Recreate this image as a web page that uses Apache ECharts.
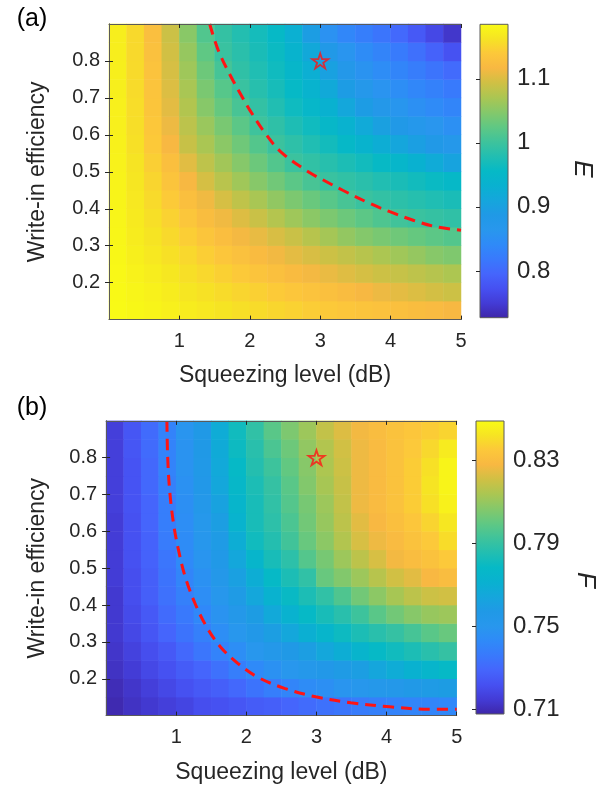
<!DOCTYPE html>
<html><head><meta charset="utf-8">
<script src="https://cdn.jsdelivr.net/npm/echarts@6/dist/echarts.min.js"></script>
<style>html,body{margin:0;padding:0;background:#fff}#c{width:611px;height:789px}</style>
</head><body><div id="c"></div>
<script>
// ---------- data ----------
const sqzCenters = [0.125,0.375,0.625,0.875,1.125,1.375,1.625,1.875,2.125,2.375,2.625,2.875,3.125,3.375,3.625,3.875,4.125,4.375,4.625,4.875];
const effCenters = [0.125,0.175,0.225,0.275,0.325,0.375,0.425,0.475,0.525,0.575,0.625,0.675,0.725,0.775,0.825,0.875];
const sqzTicks = [1,2,3,4,5];
const effTicks = [0.2,0.3,0.4,0.5,0.6,0.7,0.8];
const E_ticks = [0.8,0.9,1,1.1];
const F_ticks = [0.71,0.75,0.79,0.83];
const E_range = [0.727, 1.185];
const F_range = [0.7077, 0.849];
// E rows, bottom (eff 0.125) to top (eff 0.875)
const E_rows = [
 [1.184,1.181,1.178,1.174,1.170,1.166,1.162,1.158,1.155,1.151,1.147,1.143,1.140,1.137,1.134,1.131,1.128,1.124,1.120,1.116],
 [1.183,1.179,1.175,1.170,1.164,1.160,1.155,1.150,1.146,1.141,1.137,1.132,1.128,1.122,1.116,1.110,1.105,1.100,1.095,1.091],
 [1.182,1.176,1.171,1.165,1.158,1.152,1.146,1.140,1.134,1.128,1.121,1.114,1.108,1.102,1.096,1.091,1.087,1.082,1.077,1.072],
 [1.181,1.173,1.166,1.159,1.152,1.144,1.137,1.129,1.121,1.113,1.105,1.098,1.091,1.085,1.078,1.071,1.064,1.057,1.049,1.044],
 [1.180,1.170,1.162,1.153,1.144,1.135,1.125,1.114,1.107,1.098,1.089,1.078,1.067,1.056,1.047,1.040,1.034,1.028,1.022,1.016],
 [1.179,1.168,1.158,1.147,1.136,1.124,1.112,1.101,1.089,1.076,1.063,1.051,1.042,1.032,1.022,1.012,1.003,0.998,0.994,0.990],
 [1.178,1.166,1.154,1.141,1.127,1.112,1.097,1.083,1.069,1.055,1.042,1.030,1.019,1.008,0.998,0.992,0.987,0.982,0.977,0.972],
 [1.177,1.164,1.150,1.134,1.116,1.096,1.079,1.064,1.049,1.035,1.021,1.008,0.997,0.991,0.985,0.978,0.972,0.966,0.959,0.953],
 [1.176,1.162,1.145,1.127,1.103,1.082,1.065,1.048,1.032,1.015,0.999,0.991,0.983,0.974,0.966,0.957,0.946,0.934,0.920,0.905],
 [1.175,1.159,1.140,1.117,1.088,1.070,1.051,1.034,1.016,0.999,0.988,0.977,0.967,0.953,0.940,0.925,0.910,0.897,0.885,0.874],
 [1.174,1.157,1.138,1.110,1.081,1.060,1.040,1.021,1.001,0.989,0.976,0.964,0.951,0.935,0.918,0.900,0.885,0.872,0.862,0.852],
 [1.174,1.156,1.135,1.104,1.075,1.049,1.028,1.008,0.992,0.978,0.963,0.950,0.933,0.913,0.893,0.876,0.863,0.852,0.843,0.835],
 [1.173,1.155,1.133,1.100,1.069,1.041,1.018,0.997,0.983,0.970,0.955,0.938,0.917,0.893,0.873,0.859,0.848,0.838,0.829,0.820],
 [1.173,1.154,1.132,1.097,1.063,1.033,1.006,0.990,0.977,0.964,0.948,0.928,0.902,0.877,0.858,0.846,0.835,0.824,0.813,0.802],
 [1.172,1.153,1.129,1.094,1.058,1.024,0.997,0.985,0.972,0.960,0.940,0.915,0.885,0.860,0.845,0.833,0.821,0.808,0.792,0.775],
 [1.172,1.153,1.126,1.090,1.050,1.014,0.993,0.980,0.968,0.956,0.930,0.895,0.855,0.838,0.826,0.814,0.800,0.783,0.764,0.745]
];
// F rows, bottom (eff 0.125) to top (eff 0.875)
const F_rows = [
 [0.709,0.712,0.714,0.716,0.718,0.721,0.722,0.724,0.726,0.727,0.729,0.731,0.733,0.735,0.737,0.739,0.740,0.741,0.741,0.742],
 [0.710,0.713,0.716,0.719,0.722,0.725,0.727,0.730,0.734,0.738,0.741,0.744,0.746,0.749,0.751,0.753,0.754,0.756,0.758,0.759],
 [0.712,0.715,0.719,0.722,0.726,0.729,0.733,0.738,0.743,0.747,0.750,0.753,0.755,0.758,0.760,0.764,0.768,0.771,0.775,0.778],
 [0.713,0.717,0.721,0.725,0.730,0.735,0.740,0.745,0.750,0.754,0.757,0.760,0.765,0.769,0.774,0.778,0.781,0.784,0.787,0.790],
 [0.714,0.719,0.724,0.729,0.734,0.739,0.745,0.750,0.755,0.760,0.765,0.770,0.775,0.780,0.784,0.787,0.790,0.794,0.798,0.801],
 [0.714,0.720,0.725,0.731,0.736,0.742,0.748,0.754,0.759,0.766,0.772,0.778,0.783,0.787,0.792,0.798,0.803,0.807,0.810,0.811],
 [0.714,0.721,0.727,0.733,0.739,0.745,0.751,0.758,0.765,0.772,0.779,0.784,0.789,0.796,0.803,0.808,0.813,0.817,0.820,0.821],
 [0.715,0.721,0.727,0.734,0.741,0.747,0.754,0.761,0.769,0.778,0.784,0.789,0.801,0.806,0.811,0.816,0.821,0.824,0.828,0.830],
 [0.715,0.722,0.728,0.735,0.743,0.749,0.756,0.765,0.775,0.783,0.788,0.797,0.804,0.811,0.817,0.822,0.827,0.830,0.832,0.835],
 [0.715,0.722,0.728,0.737,0.744,0.751,0.758,0.769,0.781,0.786,0.793,0.801,0.808,0.815,0.822,0.826,0.829,0.832,0.835,0.840],
 [0.715,0.722,0.729,0.738,0.745,0.752,0.760,0.773,0.783,0.788,0.795,0.803,0.810,0.817,0.824,0.828,0.831,0.834,0.838,0.843],
 [0.716,0.723,0.729,0.738,0.746,0.754,0.762,0.775,0.783,0.789,0.797,0.804,0.811,0.818,0.826,0.829,0.832,0.836,0.841,0.846],
 [0.716,0.723,0.730,0.739,0.747,0.755,0.765,0.777,0.784,0.790,0.798,0.806,0.813,0.819,0.826,0.829,0.832,0.836,0.842,0.847],
 [0.716,0.723,0.730,0.740,0.748,0.756,0.766,0.778,0.786,0.792,0.800,0.807,0.814,0.820,0.826,0.829,0.832,0.836,0.841,0.847],
 [0.716,0.724,0.731,0.740,0.748,0.757,0.767,0.780,0.787,0.795,0.802,0.809,0.815,0.821,0.826,0.829,0.832,0.835,0.839,0.844],
 [0.716,0.724,0.731,0.740,0.749,0.757,0.768,0.781,0.789,0.798,0.805,0.811,0.818,0.823,0.827,0.830,0.832,0.834,0.836,0.838]
];
const contourE_x = [1.43,1.55,1.72,1.89,2.0,2.22,2.44,2.83,3.05,3.32,3.71,3.99,4.32,4.65,5.0];
const contourE_y = [0.9,0.83,0.762,0.703,0.667,0.604,0.554,0.5,0.477,0.45,0.414,0.392,0.369,0.351,0.342];
const contourF_x = [0.867,0.878,0.906,0.961,1.033,1.128,1.267,1.433,1.628,1.878,2.156,2.544,2.989,3.489,4.044,4.6,5.0];
const contourF_y = [0.9,0.803,0.712,0.622,0.549,0.477,0.405,0.341,0.287,0.242,0.205,0.174,0.151,0.135,0.124,0.117,0.117];
const starPoint = [3, 0.8];

// ---------- style ----------
const parula = ['#3e26a8','#433bd5','#4650f1','#4565fc','#3979fc','#2f8af8','#2897ed','#2099e6','#15a6dc','#09b1d0',
 '#06b9c6','#22beb1','#3fc39b','#60c883','#85c86a','#abc652','#d0c044','#f8b842','#fcc83a','#f6e423','#f9fb15'];
const FONT = "'Liberation Sans', Arial, Helvetica, sans-serif";
const TXT = '#262626';
const FRAME = '#5a5a5a';

function heatData(rows){
  const out = [];
  rows.forEach((row, j) => row.forEach((v, i) => out.push([i, j, v])));
  return out;
}
function lineData(xs, ys){ return xs.map((x, i) => [x, ys[i]]); }

const chart = echarts.init(document.getElementById('c'), null, {renderer:'canvas'});

const panels = [
  {grid:{left:109, top:24, width:352, height:295.6}, cb:{left:480, top:24.3, width:28, height:293.4},
   rows:E_rows, range:E_range, ticks:E_ticks, cx:contourE_x, cy:contourE_y, fmt:v=>String(v), yGap:60, xGap:45},
  {grid:{left:106.1, top:420.9, width:350.6, height:294.7}, cb:{left:476, top:421, width:28, height:293},
   rows:F_rows, range:F_range, ticks:F_ticks, cx:contourF_x, cy:contourF_y, fmt:v=>v.toFixed(2), yGap:57, xGap:46}
];

const grid=[], xAxis=[], yAxis=[], series=[], visualMap=[];
const starPath = 'path://M0,-10 L2.245,-3.09 L9.51,-3.09 L3.633,1.18 L5.878,8.09 L0,3.82 L-5.878,8.09 L-3.633,1.18 L-9.51,-3.09 L-2.245,-3.09 Z';

panels.forEach((p, k) => {
  const g0 = grid.length;
  grid.push(Object.assign({containLabel:false}, p.grid));   // heatmap grid
  grid.push(Object.assign({containLabel:false}, p.grid));   // value axes grid
  grid.push(Object.assign({containLabel:false}, p.cb));     // colorbar grid
  const xa0 = xAxis.length, ya0 = yAxis.length;
  // [xa0] heatmap category axes
  xAxis.push({type:'category', gridIndex:g0, data:sqzCenters, show:false});
  yAxis.push({type:'category', gridIndex:g0, data:effCenters, show:false});
  const tickStyle = {show:true, inside:true, length:4, lineStyle:{color:TXT, width:1}};
  // [xa0+1] bottom, [ya0+1] left
  xAxis.push({type:'value', gridIndex:g0+1, min:0, max:5, position:'bottom', z:10,
    axisLine:{show:true, lineStyle:{color:FRAME, width:1}},
    axisTick:Object.assign({customValues:sqzTicks}, tickStyle),
    axisLabel:{customValues:sqzTicks, color:TXT, fontSize:20, fontFamily:FONT, margin:12},
    splitLine:{show:false},
    name:'Squeezing level (dB)', nameLocation:'middle', nameGap:p.xGap,
    nameTextStyle:{color:TXT, fontSize:23, fontFamily:FONT}});
  yAxis.push({type:'value', gridIndex:g0+1, min:0.1, max:0.9, position:'left', z:10,
    axisLine:{show:true, lineStyle:{color:FRAME, width:1}},
    axisTick:Object.assign({customValues:effTicks}, tickStyle),
    axisLabel:{customValues:effTicks, color:TXT, fontSize:20, fontFamily:FONT, margin:9, formatter:v=>Number(v).toFixed(1)},
    splitLine:{show:false},
    name:'Write-in efficiency', nameLocation:'middle', nameGap:p.yGap,
    nameTextStyle:{color:TXT, fontSize:23, fontFamily:FONT}});
  // [xa0+2] top, [ya0+2] right
  xAxis.push({type:'value', gridIndex:g0+1, min:0, max:5, position:'top', z:10,
    axisLine:{show:true, lineStyle:{color:FRAME, width:1}},
    axisTick:Object.assign({customValues:sqzTicks}, tickStyle),
    axisLabel:{show:false}, splitLine:{show:false}});
  yAxis.push({type:'value', gridIndex:g0+1, min:0.1, max:0.9, position:'right', z:10,
    axisLine:{show:true, lineStyle:{color:FRAME, width:1}},
    axisTick:Object.assign({customValues:effTicks}, tickStyle),
    axisLabel:{show:false}, splitLine:{show:false}});
  // [xa0+3] colorbar axes
  xAxis.push({type:'value', gridIndex:g0+2, min:0, max:1, show:false});
  yAxis.push({type:'value', gridIndex:g0+2, min:p.range[0], max:p.range[1], position:'right', z:10,
    axisLine:{show:false},
    axisTick:Object.assign({customValues:p.ticks}, tickStyle),
    axisLabel:{customValues:p.ticks, color:TXT, fontSize:24, fontFamily:FONT, margin:9, formatter:v=>p.fmt(Number(v))},
    splitLine:{show:false}});

  const sHeat = series.length;
  series.push({type:'heatmap', xAxisIndex:xa0, yAxisIndex:ya0, data:heatData(p.rows), progressive:0, z:1,
    itemStyle:{borderWidth:0}, emphasis:{disabled:true}});
  visualMap.push({type:'continuous', show:false, seriesIndex:sHeat, min:p.range[0], max:p.range[1], dimension:2,
    inRange:{color:parula}});
  series.push({type:'line', xAxisIndex:xa0+1, yAxisIndex:ya0+1, data:lineData(p.cx, p.cy), smooth:0.35,
    symbol:'none', z:5, lineStyle:{color:'#ff1414', width:3, type:[11,7]}, clip:true});
  series.push({type:'scatter', xAxisIndex:xa0+1, yAxisIndex:ya0+1, data:[starPoint], symbol:starPath,
    symbolSize:[16,15], z:6, itemStyle:{color:'rgba(0,0,0,0)', borderColor:'#ff1414', borderWidth:1.8}});
  series.push({type:'custom', xAxisIndex:xa0+3, yAxisIndex:ya0+3, z:1,
    data:[[0, p.range[0], 1, p.range[1]]], encode:{x:[0,2], y:[1,3]},
    renderItem:function(params, api){
      const p0 = api.coord([api.value(0), api.value(1)]);
      const p1 = api.coord([api.value(2), api.value(3)]);
      const stops = parula.map((c, i) => ({offset:i/(parula.length-1), color:c}));
      return {type:'rect', shape:{x:p0[0], y:p1[1], width:p1[0]-p0[0], height:p0[1]-p1[1]},
        style:{fill:new echarts.graphic.LinearGradient(0,1,0,0,stops), stroke:FRAME, lineWidth:1}};
    }});
});

chart.setOption({
  animation:false,
  backgroundColor:'#ffffff',
  textStyle:{fontFamily:FONT},
  grid, xAxis, yAxis, series, visualMap,
  graphic:[
    {type:'text', x:32, y:19, style:{text:'(a)', fontSize:25, fontFamily:FONT, fill:'#000', align:'center', verticalAlign:'middle', textAlign:'center', textVerticalAlign:'middle'}},
    {type:'text', x:32, y:408, style:{text:'(b)', fontSize:25, fontFamily:FONT, fill:'#000', align:'center', verticalAlign:'middle', textAlign:'center', textVerticalAlign:'middle'}},
    {type:'text', x:582, y:169, rotation:-Math.PI/2, style:{text:'E', fontSize:26, fontStyle:'italic', fontFamily:FONT, fill:TXT, align:'center', verticalAlign:'middle', textAlign:'center', textVerticalAlign:'middle'}},
    {type:'text', x:585, y:580, rotation:-Math.PI/2, style:{text:'F', fontSize:26, fontStyle:'italic', fontFamily:FONT, fill:TXT, align:'center', verticalAlign:'middle', textAlign:'center', textVerticalAlign:'middle'}}
  ]
});
</script></body></html>
